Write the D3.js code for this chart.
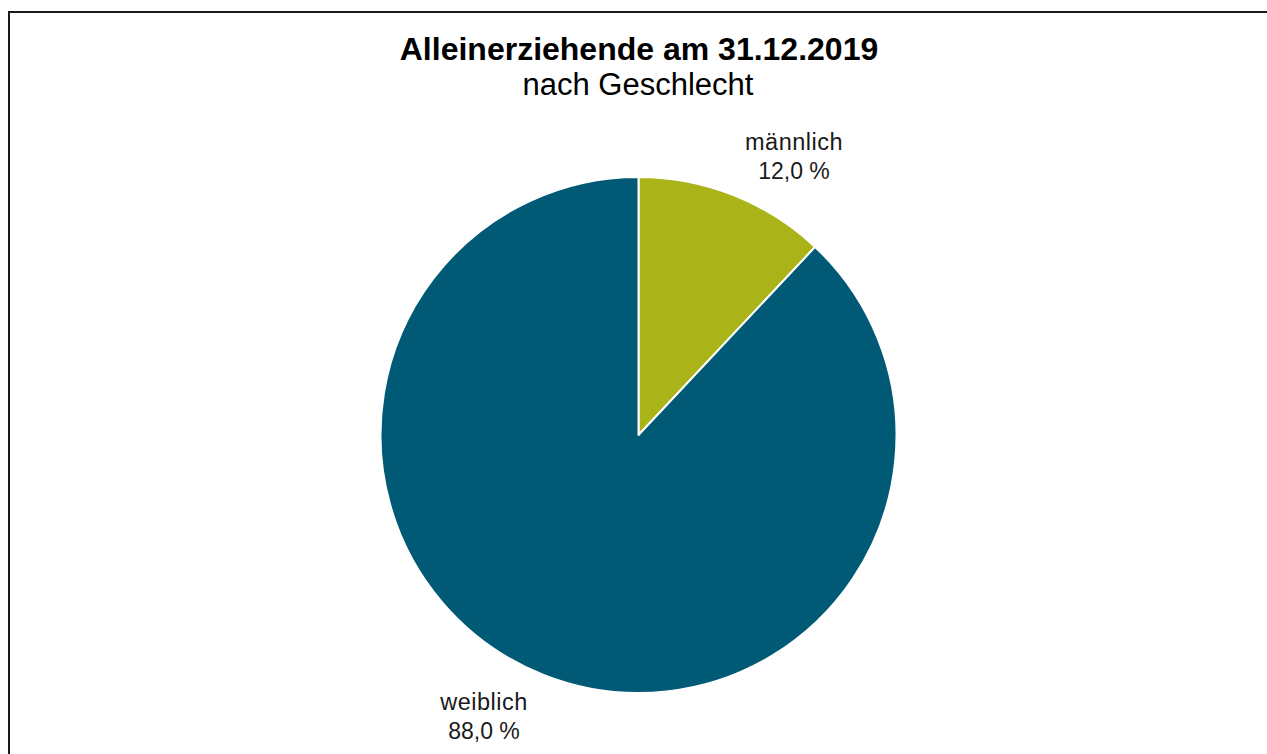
<!DOCTYPE html>
<html>
<head>
<meta charset="utf-8">
<script src="https://cdn.jsdelivr.net/npm/d3@7"></script>
<style>
  html, body { margin: 0; padding: 0; background: #fff; overflow: hidden; }
  svg { display: block; font-family: "Liberation Sans", Arial, sans-serif; }
</style>
</head>
<body>
<svg id="chart" width="1267" height="754"></svg>
<script>
// Alleinerziehende nach Geschlecht, Anteile in Prozent
const categories = ["männlich", "weiblich"];
const shares = [12.0, 88.0];
const colors = ["#AAB418", "#005A76"];

const svg = d3.select("#chart");
const W = 1267, H = 754;
const cx = 638.5, cy = 435, radius = 258;

// outer frame (runs off the right and bottom edges)
svg.append("rect")
  .attr("x", 9).attr("y", 12)
  .attr("width", W + 20).attr("height", H + 20)
  .attr("fill", "none").attr("stroke", "#1a1a1a").attr("stroke-width", 2);

// title
svg.append("text")
  .attr("x", 639).attr("y", 60)
  .attr("text-anchor", "middle")
  .attr("font-size", 32).attr("font-weight", "bold").attr("fill", "#000")
  .text("Alleinerziehende am 31.12.2019");
svg.append("text")
  .attr("x", 638).attr("y", 95)
  .attr("text-anchor", "middle")
  .attr("font-size", 31).attr("fill", "#000")
  .text("nach Geschlecht");

const data = categories.map((c, i) => ({ name: c, value: shares[i], color: colors[i] }));

const pie = d3.pie().value(d => d.value).sort(null);
const arc = d3.arc().innerRadius(0).outerRadius(radius);

const g = svg.append("g").attr("transform", `translate(${cx},${cy})`);
const arcs = pie(data);

g.selectAll("path.slice")
  .data(arcs)
  .join("path")
  .attr("class", "slice")
  .attr("d", arc)
  .attr("fill", d => d.data.color)
  .attr("stroke", "#fff")
  .attr("stroke-width", 2)
  .attr("stroke-linejoin", "round");

// data labels placed outside the pie
const fmt = v => d3.format(".1f")(v).replace(".", ",") + " %";
const labelPos = [
  { x: 794, y: 150 },   // männlich
  { x: 484, y: 710 }    // weiblich
];

const labels = svg.selectAll("g.lbl")
  .data(arcs)
  .join("g")
  .attr("class", "lbl")
  .attr("transform", (d, i) => `translate(${labelPos[i].x},${labelPos[i].y})`);

labels.append("text")
  .attr("text-anchor", "middle")
  .attr("font-size", 23.5).attr("letter-spacing", 0.5).attr("fill", "#1a1a1a")
  .text(d => d.data.name);
labels.append("text")
  .attr("text-anchor", "middle")
  .attr("y", 28.5)
  .attr("font-size", 23).attr("fill", "#1a1a1a")
  .text(d => fmt(d.data.value));
</script>
</body>
</html>
